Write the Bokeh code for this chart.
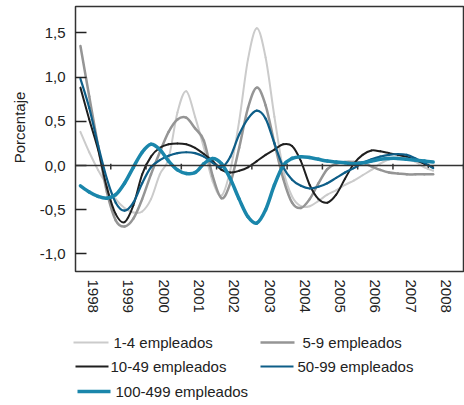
import math
from bokeh.plotting import figure
from bokeh.models import Range1d, FixedTicker, Span
from bokeh.layouts import column, row
from bokeh.embed import file_html
from bokeh.resources import INLINE
from bokeh.core.properties import value

FONT = "Liberation Sans"
FSIZE = "15px"
TXT = "#222222"

# ---- data ----
years = ["1998", "1999", "2000", "2001", "2002", "2003", "2004", "2005", "2006", "2007", "2008"]
y_ticks = [-1.0, -0.5, 0.0, 0.5, 1.0, 1.5]
y_tick_labels = ["-1,0", "-0,5", "0,0", "0,5", "1,0", "1,5"]
y_title = "Porcentaje"

t = [1998.14, 1998.39, 1998.64, 1998.89, 1999.14, 1999.39, 1999.64, 1999.89,
     2000.14, 2000.39, 2000.64, 2000.89, 2001.14, 2001.39, 2001.64, 2001.89,
     2002.14, 2002.39, 2002.64, 2002.89, 2003.14, 2003.39, 2003.64, 2003.89,
     2004.14, 2004.39, 2004.64, 2004.89, 2005.14, 2005.39, 2005.64, 2005.89,
     2006.14, 2006.39, 2006.64, 2006.89, 2007.14, 2007.39, 2007.64, 2007.89,
     2008.14]

emp_1_4 = [0.38, 0.15, -0.05, -0.22, -0.38, -0.48, -0.53, -0.52, -0.38, -0.10,
           0.08, 0.60, 0.84, 0.55, 0.20, -0.18, -0.34, -0.05, 0.50, 1.20,
           1.55, 1.22, 0.55, -0.05, -0.35, -0.46, -0.46, -0.40, -0.33, -0.28,
           -0.22, -0.17, -0.11, -0.05, 0.02, 0.07, 0.09, 0.08, 0.04, -0.02,
           -0.06]
emp_5_9 = [1.35, 0.78, 0.22, -0.30, -0.62, -0.69, -0.60, -0.38, -0.10, 0.15,
           0.38, 0.52, 0.54, 0.42, 0.28, -0.12, -0.37, -0.20, 0.20, 0.65,
           0.88, 0.68, 0.25, -0.15, -0.42, -0.48, -0.38, -0.20, -0.04, 0.02,
           0.04, 0.04, 0.03, -0.01, -0.05, -0.08, -0.09, -0.10, -0.10, -0.10,
           -0.10]
emp_10_49 = [0.88, 0.52, 0.18, -0.25, -0.55, -0.64, -0.45, -0.10, 0.10, 0.20,
             0.24, 0.25, 0.24, 0.20, 0.13, 0.05, -0.05, -0.08, -0.06, -0.02,
             0.05, 0.12, 0.18, 0.24, 0.22, 0.05, -0.22, -0.38, -0.42, -0.33,
             -0.15, 0.02, 0.12, 0.17, 0.16, 0.14, 0.12, 0.10, 0.06, 0.02,
             -0.02]
emp_50_99 = [0.98, 0.65, 0.23, -0.15, -0.42, -0.51, -0.42, -0.20, -0.02, 0.06,
             0.11, 0.14, 0.15, 0.14, 0.10, 0.03, -0.02, 0.10, 0.35, 0.53,
             0.62, 0.53, 0.25, -0.02, -0.16, -0.23, -0.26, -0.24, -0.20, -0.14,
             -0.08, -0.03, 0.03, 0.07, 0.10, 0.12, 0.13, 0.12, 0.08, 0.03,
             -0.03]
emp_100_499 = [-0.23, -0.30, -0.35, -0.37, -0.33, -0.20, -0.02, 0.15, 0.24, 0.18,
               0.05, -0.05, -0.09, -0.08, 0.02, 0.08, 0.02, -0.15, -0.38, -0.58,
               -0.65, -0.50, -0.22, 0.00, 0.08, 0.10, 0.09, 0.07, 0.05, 0.04,
               0.03, 0.02, 0.03, 0.05, 0.07, 0.08, 0.08, 0.07, 0.06, 0.05,
               0.04]

series_names = ["1-4 empleados", "5-9 empleados", "10-49 empleados",
                "50-99 empleados", "100-499 empleados"]
series_values = [emp_1_4, emp_5_9, emp_10_49, emp_50_99, emp_100_499]
series_colors = ["#cbcbcb", "#959595", "#1f1f1f", "#0e5e88", "#1a86ab"]
series_widths = [2.0, 2.5, 2.0, 2.2, 3.5]


def smooth_segments(xs, ys):
    """Catmull-Rom curve through the read points, as cubic Bezier pieces."""
    n = len(xs)
    out = {k: [] for k in ("x0", "y0", "x1", "y1", "cx0", "cy0", "cx1", "cy1")}
    for i in range(n - 1):
        a = max(i - 1, 0)
        d = min(i + 2, n - 1)
        out["x0"].append(xs[i]); out["y0"].append(ys[i])
        out["x1"].append(xs[i + 1]); out["y1"].append(ys[i + 1])
        out["cx0"].append(xs[i] + (xs[i + 1] - xs[a]) / 6.0)
        out["cy0"].append(ys[i] + (ys[i + 1] - ys[a]) / 6.0)
        out["cx1"].append(xs[i + 1] - (xs[d] - xs[i]) / 6.0)
        out["cy1"].append(ys[i + 1] - (ys[d] - ys[i]) / 6.0)
    return out


def bare(fig):
    fig.frame_align = False
    fig.xgrid.visible = False
    fig.ygrid.visible = False
    fig.outline_line_color = None
    fig.border_fill_color = "white"
    fig.background_fill_color = "white"


# ---- y title strip (pixel units) ----
lab = figure(width=30, height=320, x_range=Range1d(0, 30), y_range=Range1d(320, 0),
             output_backend="svg", toolbar_location=None,
             x_axis_location=None, y_axis_location=None, min_border=0)
bare(lab)
lab.text(x=[19], y=[127], text=[y_title], angle=math.pi / 2,
         text_align="center", text_baseline="middle",
         text_font=value(FONT), text_font_size=FSIZE, text_color=TXT)

# ---- main chart ----
p = figure(width=434, height=320,
           x_range=Range1d(1998, 2009), y_range=Range1d(-1.198, 1.797),
           output_backend="svg", toolbar_location=None,
           min_border_left=45, min_border_right=1, min_border_top=6,
           min_border_bottom=49)
bare(p)
p.outline_line_color = "#333333"
p.outline_line_width = 1.5
p.outline_line_alpha = 1.0

# y axis
ya = p.yaxis[0]
ya.ticker = FixedTicker(ticks=y_ticks)
ya.major_label_overrides = {v: s for v, s in zip(y_ticks, y_tick_labels)}
ya.major_tick_in = 11
ya.major_tick_out = 0
ya.minor_tick_in = 0
ya.minor_tick_out = 0
ya.major_tick_line_color = "#222222"
ya.major_tick_line_width = 1.5
ya.axis_line_color = None
ya.major_label_standoff = 10
ya.major_label_text_font = FONT
ya.major_label_text_font_size = FSIZE
ya.major_label_text_color = TXT

# x axis: year labels centred between the year boundaries
year_pos = [int(y) + 0.5 for y in years]
xa = p.xaxis[0]
xa.ticker = FixedTicker(ticks=year_pos)
xa.major_label_overrides = {v: s for v, s in zip(year_pos, years)}
xa.major_tick_in = 0
xa.major_tick_out = 0
xa.minor_tick_in = 0
xa.minor_tick_out = 0
xa.axis_line_color = None
xa.major_label_orientation = "vertical"
xa.major_label_standoff = 8
xa.major_label_text_font = FONT
xa.major_label_text_font_size = FSIZE
xa.major_label_text_color = TXT

# zero line with year-boundary ticks
p.add_layout(Span(location=0, dimension="width", line_color="#333333", line_width=1.5))
bounds = [int(y) + 1 for y in years]
p.segment(x0=bounds, y0=[-0.045] * len(bounds), x1=bounds, y1=[0.02] * len(bounds),
          line_color="#333333", line_width=1.5)

for vals, col, w in zip(series_values, series_colors, series_widths):
    seg = smooth_segments(t, vals)
    p.bezier(line_color=col, line_width=w, line_cap="round", **seg)

# ---- legend (own small canvas, data units = pixels) ----
lf = figure(width=464, height=85, x_range=Range1d(0, 464), y_range=Range1d(85, 0),
            output_backend="svg", toolbar_location=None,
            x_axis_location=None, y_axis_location=None, min_border=0)
bare(lf)

leg_x0 = [73, 260, 75, 260, 77]
leg_x1 = [108, 294, 108, 293, 110]
leg_tx = [113, 302, 110, 297, 115]
leg_y = [22, 22, 46, 46, 71]
lf.segment(x0=leg_x0, y0=leg_y, x1=leg_x1, y1=leg_y,
           line_color=series_colors, line_width=series_widths)
lf.text(x=leg_tx, y=leg_y, text=series_names, text_font=value(FONT),
        text_font_size=FSIZE, text_baseline="middle", text_color=TXT)

layout = column(row(lab, p, spacing=0), lf, spacing=0)
open("out.html", "w").write(file_html(layout, INLINE))
